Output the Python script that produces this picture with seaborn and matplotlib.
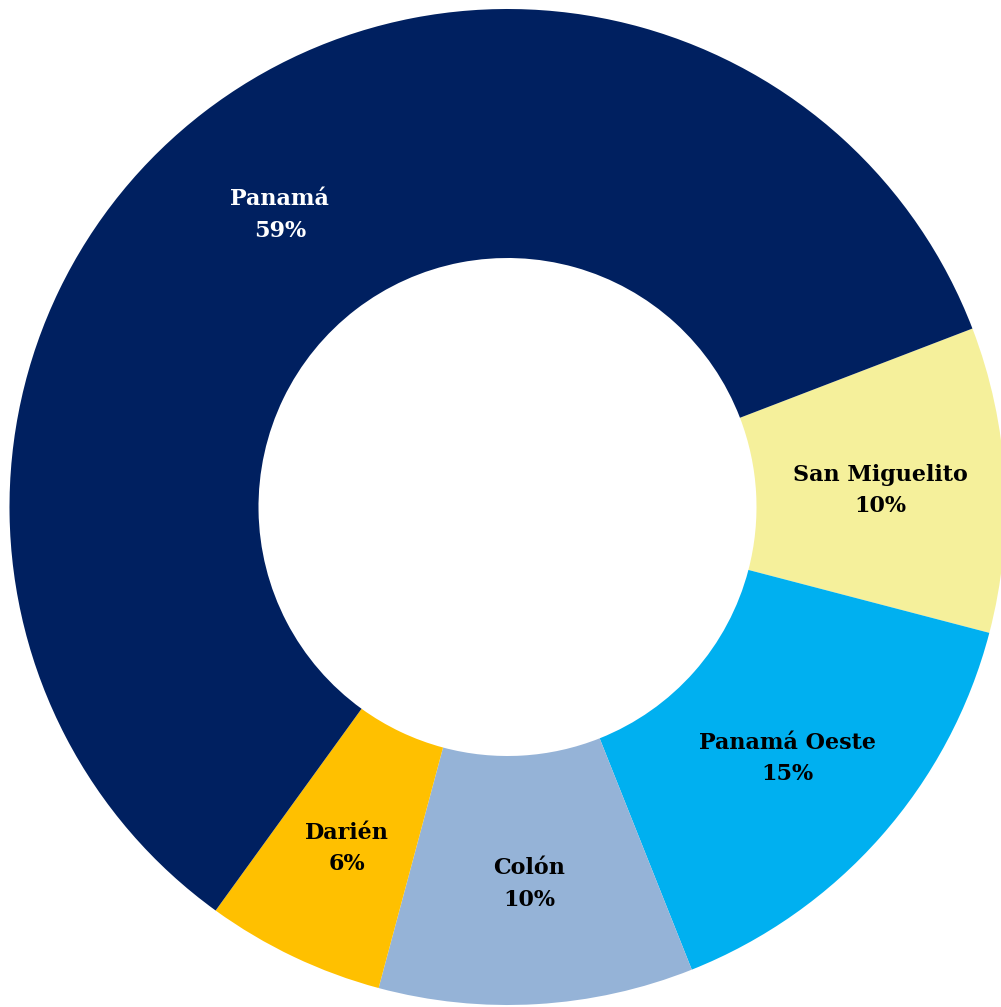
import matplotlib
matplotlib.use("Agg")
import matplotlib.pyplot as plt
import seaborn as sns

# ========== 数据 ==========
provincias = ["San Miguelito", "Panamá Oeste", "Colón", "Darién", "Panamá"]
valores = [9.9, 14.9, 10.2, 5.8, 59.2]
porcentajes = ["10%", "15%", "10%", "6%", "59%"]
colores = ["#F5F09B", "#00B0F0", "#95B3D7", "#FFC000", "#002060"]
color_texto = ["black", "black", "black", "black", "white"]

sns.set_style("white")
plt.rcParams["font.family"] = ["DejaVu Serif"]

fig = plt.figure(figsize=(10.01, 10.07), dpi=100)
ax = fig.add_axes([9.5 / 1001, 2 / 1007, 996 / 1001, 996 / 1007])

etiquetas = [f"{p}\n{v}" for p, v in zip(provincias, porcentajes)]
wedges, textos = ax.pie(
    valores, colors=colores, labels=etiquetas, labeldistance=0.75,
    startangle=21, counterclock=False, radius=1,
    wedgeprops=dict(width=0.5, linewidth=0),
    textprops=dict(fontsize=16, fontweight="bold", ha="center", va="center",
                   linespacing=1.55),
)
for t, c in zip(textos, color_texto):
    t.set_color(c)
    t.set_horizontalalignment("center")
    # bajar un poco las etiquetas
    x, y = t.get_position()
    t.set_position((x, y - 0.008))

ax.set_xlim(-1, 1)
ax.set_ylim(-1, 1)
ax.set_aspect("equal")
ax.axis("off")

fig.savefig("out.png", dpi=100)
